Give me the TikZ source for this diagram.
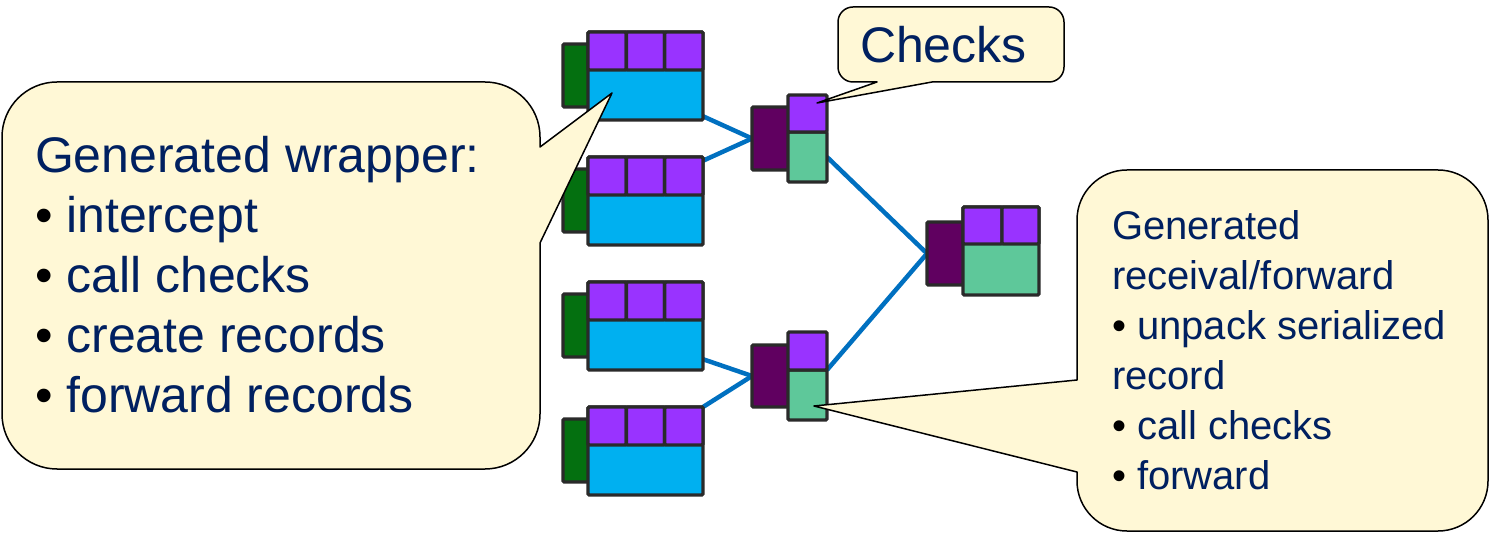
\documentclass[tikz,border=0pt]{standalone}
\usepackage{fontspec}
\setmainfont{Liberation Sans}
\definecolor{navy}{RGB}{0,32,96}
\definecolor{callfill}{RGB}{255,248,214}
\definecolor{cpurple}{RGB}{153,51,255}
\definecolor{cblue}{RGB}{0,176,240}
\definecolor{cgreen}{RGB}{4,112,16}
\definecolor{cplum}{RGB}{96,0,96}
\definecolor{cteal}{RGB}{94,200,154}
\definecolor{cborder}{RGB}{42,42,42}
\definecolor{clink}{RGB}{0,112,192}
\pgfdeclarelayer{bg}
\pgfsetlayers{bg,main}
\begin{document}
\begin{tikzpicture}[x=1pt,y=-1pt,
  box/.style={draw=cborder,line width=3.4pt,rounded corners=1.2pt,inner sep=0pt,outer sep=0pt,anchor=north west},
  link/.style={draw=clink,line width=4.5pt},
  callout/.style={draw=black,line width=1.5pt,fill=callfill,line join=round},
  calltext/.style={text=navy,inner sep=0pt,outer sep=0pt,align=left,anchor=north west}]
\useasboundingbox (0,0) rectangle (1491,534);
% source nodes
\foreach \i/\T in {1/32,2/157,3/282,4/407}{
  \node[box,fill=cgreen,minimum width=27pt,minimum height=63pt] (g\i) at (563,{\T+12}) {};
  \node[box,fill=cblue,minimum width=115pt,minimum height=88pt] (b\i) at (588,\T) {};
  \node[box,fill=cpurple,minimum width=38.33pt,minimum height=38pt] (p\i a) at (588,\T) {};
  \node[box,fill=cpurple,minimum width=38.33pt,minimum height=38pt] (p\i b) at (626.33,\T) {};
  \node[box,fill=cpurple,minimum width=38.33pt,minimum height=38pt] (p\i c) at (664.67,\T) {};
}
% middle nodes
\node[box,fill=cplum,minimum width=37pt,minimum height=63pt] (m1d) at (752,107) {};
\node[box,fill=cteal,minimum width=39pt,minimum height=50pt] (m1g) at (788,132) {};
\node[box,fill=cpurple,minimum width=39pt,minimum height=37pt] (m1p) at (788,95) {};
\node[box,fill=cplum,minimum width=37pt,minimum height=62pt] (m2d) at (752,345) {};
\node[box,fill=cteal,minimum width=39pt,minimum height=50pt] (m2g) at (788,370) {};
\node[box,fill=cpurple,minimum width=39pt,minimum height=38pt] (m2p) at (788,332) {};
% final node
\node[box,fill=cplum,minimum width=37pt,minimum height=63pt] (fd) at (927,222) {};
\node[box,fill=cteal,minimum width=76pt,minimum height=88pt] (fg) at (963,207) {};
\node[box,fill=cpurple,minimum width=39pt,minimum height=37pt] (fp1) at (963,207) {};
\node[box,fill=cpurple,minimum width=37pt,minimum height=37pt] (fp2) at (1002,207) {};
% connectors
\begin{pgfonlayer}{bg}
\draw[link] (b1.-35) -- (m1d.west);
\draw[link] (b2.35) -- (m1d.west);
\draw[link] (b3.-30) -- (m2d.west);
\draw[link] (b4.north east) -- (m2d.west);
\draw[link] (m1g.east) -- (fd.west);
\draw[link] (m2p.south east) -- (fd.west);
\end{pgfonlayer}
% callouts
\draw[callout] (250,82) [rounded corners=55pt] -- (540,82) [sharp corners] -- (540,147) -- (612,93) -- (540,243) [rounded corners=55pt] -- (540,469) -- (2,469) -- (2,82) -- cycle;
\draw[callout] (950,7) [rounded corners=15pt] -- (1064,7) -- (1064,82) [sharp corners] -- (932,82) -- (817,103) -- (877,82) [rounded corners=15pt] -- (838,82) -- (838,7) -- cycle;
\draw[callout] (1300,170) [rounded corners=50pt] -- (1488,170) -- (1488,531) -- (1077,531) [sharp corners] -- (1077,472) -- (814,406) -- (1077,380) [rounded corners=50pt] -- (1077,170) -- cycle;
% texts
\node[calltext,font=\fontsize{50}{60}\selectfont] (lt) at (35,136) {Generated wrapper:\\\textcolor{black}{•} intercept\\\textcolor{black}{•} call checks\\\textcolor{black}{•} create records\\\textcolor{black}{•} forward records};
\node[calltext,font=\fontsize{50}{60}\selectfont] (ct) at (860,26) {Checks};
\node[calltext,font=\fontsize{40}{50}\selectfont] (rt) at (1112,211) {Generated\\receival/forward\\\textcolor{black}{•} unpack serialized\\record\\\textcolor{black}{•} call checks\\\textcolor{black}{•} forward};
\end{tikzpicture}
\end{document}
